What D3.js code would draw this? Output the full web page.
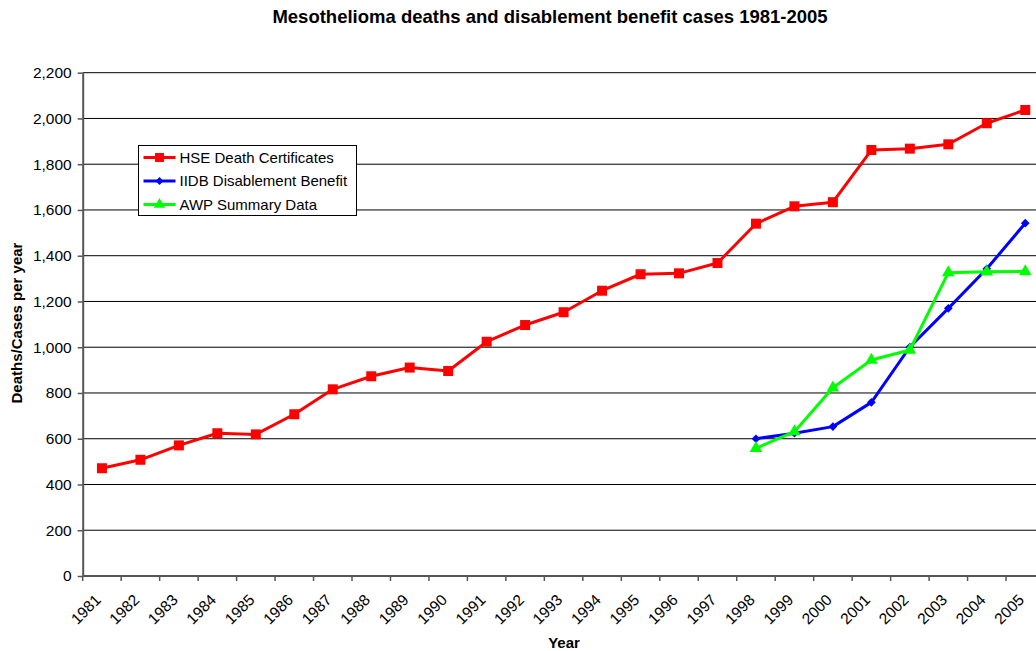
<!DOCTYPE html>
<html>
<head>
<meta charset="utf-8">
<script src="https://cdn.jsdelivr.net/npm/d3@7"></script>
<style>
  html, body { margin: 0; padding: 0; background: #fff; }
  svg { display: block; font-family: "Liberation Sans", Arial, sans-serif; }
</style>
</head>
<body>
<svg id="chart" width="1036" height="651"></svg>
<script>
// Years on the category axis
const years = ["1981","1982","1983","1984","1985","1986","1987","1988","1989","1990",
  "1991","1992","1993","1994","1995","1996","1997","1998","1999","2000",
  "2001","2002","2003","2004","2005"];

// HSE death certificates, 1981-2005
const hseDeaths = [471, 508, 571, 624, 619, 707, 816, 873, 911, 896,
  1024, 1097, 1153, 1247, 1319, 1323, 1368, 1540, 1616, 1634,
  1862, 1868, 1887, 1979, 2037];

// IIDB disablement benefit, 1998-2005
const iidbYears = ["1998","1999","2000","2001","2002","2003","2004","2005"];
const iidbCases = [600, 624, 653, 759, 1001, 1170, 1343, 1542];

// AWP summary data, 1998-2005
const awpYears = ["1998","1999","2000","2001","2002","2003","2004","2005"];
const awpCases = [558, 631, 823, 944, 988, 1326, 1330, 1331];

const yTicks = [0, 200, 400, 600, 800, 1000, 1200, 1400, 1600, 1800, 2000, 2200];

const svg = d3.select("#chart");
const plotLeft = 82.7, plotRight = 1044.5, plotTop = 72.7, plotBottom = 576;

const x = d3.scaleBand().domain(years).range([plotLeft, plotRight]);
const y = d3.scaleLinear().domain([0, 2200]).range([plotBottom, plotTop]);
const fmt = d3.format(",");

// Title
svg.append("text")
  .attr("x", 550).attr("y", 23)
  .attr("text-anchor", "middle")
  .attr("font-size", 18.5).attr("font-weight", "bold")
  .text("Mesothelioma deaths and disablement benefit cases 1981-2005");

// Horizontal gridlines
svg.append("g").selectAll("line")
  .data(yTicks.filter(d => d > 0))
  .join("line")
  .attr("x1", plotLeft).attr("x2", plotRight)
  .attr("y1", d => y(d)).attr("y2", d => y(d))
  .attr("stroke", "#000").attr("stroke-width", 1);

// Y axis
const yAxis = svg.append("g")
  .attr("transform", `translate(${plotLeft},0)`)
  .call(d3.axisLeft(y).tickValues(yTicks).tickFormat(fmt).tickSize(5).tickSizeOuter(0));
yAxis.select(".domain").attr("stroke", "#555").attr("stroke-width", 2);
yAxis.selectAll(".tick line").attr("stroke", "#555").attr("stroke-width", 1.5);
yAxis.selectAll(".tick text")
  .attr("font-family", "Liberation Sans, Arial, sans-serif")
  .attr("font-size", 15.5).attr("fill", "#000").attr("x", -11);

// X axis: ticks sit on the category boundaries
const boundaries = years.map(d => x(d));
const xg = svg.append("g");
xg.append("line")
  .attr("x1", plotLeft).attr("x2", plotRight)
  .attr("y1", plotBottom).attr("y2", plotBottom)
  .attr("stroke", "#555").attr("stroke-width", 2);
xg.selectAll("line.tk")
  .data(boundaries)
  .join("line").attr("class", "tk")
  .attr("x1", d => d).attr("x2", d => d)
  .attr("y1", plotBottom).attr("y2", plotBottom + 5)
  .attr("stroke", "#555").attr("stroke-width", 1.5);
xg.selectAll("text")
  .data(years)
  .join("text")
  .attr("transform", d => `translate(${x(d) + x.bandwidth() / 2 - 4},${plotBottom + 21}) rotate(-45)`)
  .attr("text-anchor", "end")
  .attr("dy", "0.35em")
  .attr("font-size", 15.5)
  .text(d => d);

// Axis titles
svg.append("text")
  .attr("transform", "translate(22,323) rotate(-90)")
  .attr("text-anchor", "middle")
  .attr("font-size", 15).attr("font-weight", "bold")
  .text("Deaths/Cases per year");
svg.append("text")
  .attr("x", 564).attr("y", 648)
  .attr("text-anchor", "middle")
  .attr("font-size", 15).attr("font-weight", "bold")
  .text("Year");

const cx = d => x(d) + x.bandwidth() / 2;
const line = d3.line().x(d => cx(d[0])).y(d => y(d[1]));

// Diamond markers are squares turned by 45 degrees
const series = [
  { name: "HSE Death Certificates", color: "#ff0000", cats: years, vals: hseDeaths, symbol: d3.symbolSquare, size: 100, rot: 0 },
  { name: "IIDB Disablement Benefit", color: "#0000ff", cats: iidbYears, vals: iidbCases, symbol: d3.symbolSquare, size: 38, rot: 45 },
  { name: "AWP Summary Data", color: "#00ff00", cats: awpYears, vals: awpCases, symbol: d3.symbolTriangle, size: 70, rot: 0 }
];

series.forEach(s => {
  const pts = s.cats.map((c, i) => [c, s.vals[i]]);
  const g = svg.append("g");
  g.append("path")
    .attr("d", line(pts))
    .attr("fill", "none")
    .attr("stroke", s.color)
    .attr("stroke-width", 3)
    .attr("stroke-linejoin", "round");
  g.selectAll("path.m")
    .data(pts)
    .join("path").attr("class", "m")
    .attr("d", d3.symbol().type(s.symbol).size(s.size))
    .attr("transform", d => `translate(${cx(d[0])},${y(d[1])}) rotate(${s.rot})`)
    .attr("fill", s.color);
});

// Legend
const lg = svg.append("g").attr("transform", "translate(138.5,145.5)");
lg.append("rect")
  .attr("width", 218).attr("height", 70)
  .attr("fill", "#fff").attr("stroke", "#000").attr("stroke-width", 1);
series.forEach((s, i) => {
  const yy = 12 + i * 23.5;
  lg.append("line")
    .attr("x1", 5).attr("x2", 37).attr("y1", yy).attr("y2", yy)
    .attr("stroke", s.color).attr("stroke-width", 3);
  lg.append("path")
    .attr("d", d3.symbol().type(s.symbol).size(s.size * 0.8)())
    .attr("transform", `translate(21,${yy}) rotate(${s.rot})`)
    .attr("fill", s.color);
  lg.append("text")
    .attr("x", 41).attr("y", yy).attr("dy", "0.35em")
    .attr("font-size", 15)
    .text(s.name);
});
</script>
</body>
</html>
